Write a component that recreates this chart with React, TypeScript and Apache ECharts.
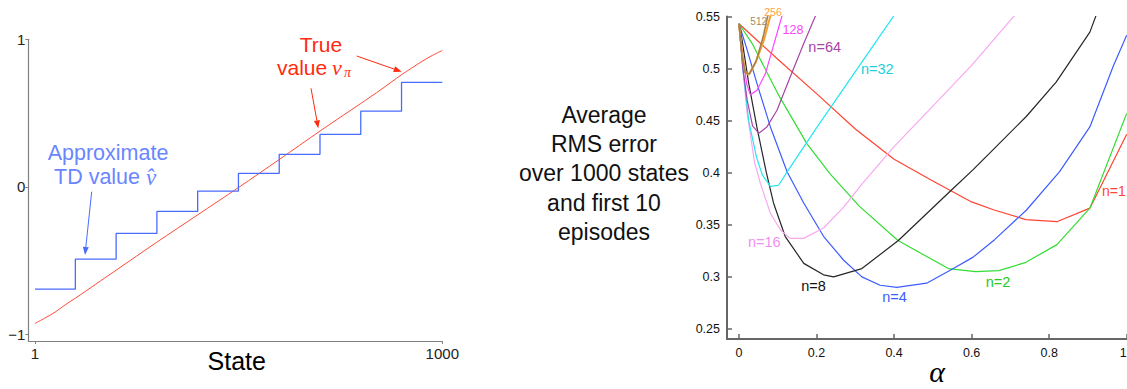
import React, { useEffect, useRef } from "react";
import * as echarts from "echarts";

// ---------- Left chart data ----------
const states = [1, 25, 50, 75, 100, 150, 200, 300, 400, 500, 600, 700, 800, 850, 900, 925, 950, 975, 1000];
const trueValue = [-0.926, -0.89, -0.85, -0.8, -0.755, -0.66, -0.565, -0.375, -0.19, -0.005, 0.185, 0.378, 0.565, 0.66, 0.76, 0.805, 0.85, 0.89, 0.924];
const groupStarts = [1, 100, 200, 300, 400, 500, 600, 700, 800, 900, 1000];
const tdValue = [-0.694, -0.49, -0.316, -0.167, -0.029, 0.091, 0.22, 0.355, 0.513, 0.708, 0.708];
const leftXTicks = [1, 1000];
const leftYTicks = [-1, 0, 1];

// ---------- Right chart data ----------
const n1Alpha = [0, 0.1, 0.2, 0.3, 0.4, 0.5, 0.6, 0.66, 0.74, 0.82, 0.905, 1.0];
const n1Rms = [0.543, 0.509, 0.476, 0.442, 0.413, 0.392, 0.372, 0.364, 0.355, 0.353, 0.366, 0.437];
const n2Alpha = [0, 0.034, 0.1, 0.175, 0.235, 0.31, 0.41, 0.54, 0.61, 0.67, 0.74, 0.82, 0.905, 1.0];
const n2Rms = [0.543, 0.524, 0.476, 0.428, 0.399, 0.368, 0.335, 0.308, 0.305, 0.306, 0.314, 0.331, 0.366, 0.457];
const n4Alpha = [0, 0.021, 0.046, 0.081, 0.124, 0.167, 0.218, 0.27, 0.317, 0.364, 0.407, 0.484, 0.553, 0.604, 0.66, 0.741, 0.827, 0.905, 0.965, 1.0];
const n4Rms = [0.543, 0.518, 0.486, 0.444, 0.401, 0.371, 0.339, 0.316, 0.3, 0.292, 0.29, 0.294, 0.308, 0.319, 0.336, 0.364, 0.401, 0.444, 0.502, 0.532];
const n8Alpha = [0, 0.008, 0.025, 0.046, 0.07, 0.089, 0.119, 0.167, 0.218, 0.244, 0.317, 0.411, 0.544, 0.604, 0.655, 0.741, 0.818, 0.905, 0.93];
const n8Rms = [0.543, 0.527, 0.486, 0.444, 0.401, 0.371, 0.339, 0.313, 0.302, 0.3, 0.308, 0.335, 0.382, 0.403, 0.422, 0.454, 0.487, 0.535, 0.56];
const n16Alpha = [0, 0.005, 0.02, 0.04, 0.055, 0.081, 0.107, 0.132, 0.167, 0.218, 0.27, 0.317, 0.4, 0.5, 0.6, 0.72];
const n16Rms = [0.543, 0.52, 0.46, 0.41, 0.39, 0.361, 0.345, 0.337, 0.337, 0.347, 0.367, 0.389, 0.425, 0.464, 0.503, 0.555];
const n32Alpha = [0, 0.01, 0.025, 0.045, 0.06, 0.081, 0.102, 0.128, 0.2, 0.3, 0.4];
const n32Rms = [0.543, 0.5, 0.45, 0.415, 0.398, 0.387, 0.388, 0.403, 0.443, 0.497, 0.551];
const n64Alpha = [0, 0.01, 0.021, 0.035, 0.051, 0.072, 0.098, 0.132, 0.167, 0.2];
const n64Rms = [0.543, 0.5, 0.47, 0.445, 0.438, 0.444, 0.46, 0.492, 0.524, 0.553];
const n128Alpha = [0, 0.01, 0.02, 0.029, 0.046, 0.068, 0.085, 0.112];
const n128Rms = [0.543, 0.51, 0.485, 0.475, 0.479, 0.495, 0.517, 0.552];
const n256Alpha = [0, 0.008, 0.016, 0.025, 0.042, 0.064, 0.082];
const n256Rms = [0.543, 0.515, 0.497, 0.494, 0.505, 0.527, 0.552];
const n512Alpha = [0, 0.008, 0.016, 0.027, 0.045, 0.062, 0.075];
const n512Rms = [0.543, 0.512, 0.496, 0.495, 0.508, 0.53, 0.552];
const rightXTicks = [0, 0.2, 0.4, 0.6, 0.8, 1];
const rightYTicks = [0.25, 0.3, 0.35, 0.4, 0.45, 0.5, 0.55];

const SANS = "'Liberation Sans', Arial, Helvetica, sans-serif";
const SERIF = "'Liberation Serif', 'DejaVu Serif', serif";

const zip = (xs: number[], ys: number[]) => xs.map((x, i) => [x, ys[i]]);

function arrow(x1: number, y1: number, x2: number, y2: number, color: string, head = 8, half = 3) {
  const dx = x2 - x1, dy = y2 - y1;
  const L = Math.hypot(dx, dy);
  const ux = dx / L, uy = dy / L;
  const bx = x2 - ux * head, by = y2 - uy * head;
  return [
    { type: "line", shape: { x1, y1, x2: bx, y2: by }, style: { stroke: color, lineWidth: 1 } },
    {
      type: "polygon",
      shape: { points: [[x2, y2], [bx - uy * half, by + ux * half], [bx + uy * half, by - ux * half]] },
      style: { fill: color },
    },
  ];
}

function txt(text: string, x: number, y: number, color: string, size: number, align = "center", extra: any = {}) {
  return {
    type: "text",
    x,
    y,
    style: {
      text,
      fill: color,
      font: `${extra.italic ? "italic " : ""}${size}px ${extra.family || SANS}`,
      textAlign: align,
      textVerticalAlign: "middle",
      lineHeight: extra.lineHeight,
    },
  };
}

export default function App() {
  const ref = useRef<HTMLDivElement>(null);
  useEffect(() => {
    if (!ref.current) return;
    const chart = echarts.init(ref.current, undefined, { renderer: "svg" });
    const rline = (data: number[][], color: string, width = 1.2) => ({
      type: "line",
      xAxisIndex: 1,
      yAxisIndex: 1,
      data,
      showSymbol: false,
      symbol: "none",
      clip: true,
      lineStyle: { color, width },
      z: 3,
    });
    const option: any = {
      animation: false,
      backgroundColor: "#ffffff",
      grid: [
        { left: 28.3, top: 39.3, width: 414, height: 301.7, outerBoundsMode: "none", containLabel: false },
        { left: 727, top: 16.5, width: 400, height: 322.5, outerBoundsMode: "none", containLabel: false },
      ],
      xAxis: [
        {
          gridIndex: 0,
          type: "value",
          min: -15.4,
          max: 1000,
          position: "bottom",
          axisLine: { onZero: false, lineStyle: { color: "#808080", width: 1.2 } },
          axisTick: { customValues: leftXTicks, length: 3, lineStyle: { color: "#808080" } },
          axisLabel: {
            customValues: leftXTicks,
            color: "#222",
            fontSize: 15,
            fontFamily: SANS,
            margin: 5,
            formatter: (v: number) => String(v),
          },
          splitLine: { show: false },
        },
        {
          gridIndex: 1,
          type: "value",
          min: -0.03095,
          max: 1.0008,
          position: "bottom",
          axisLine: { onZero: false, lineStyle: { color: "#666", width: 2 } },
          axisTick: { customValues: rightXTicks, inside: true, length: 5, lineStyle: { color: "#666", width: 1.5 } },
          axisLabel: {
            customValues: rightXTicks,
            color: "#111",
            fontSize: 12.5,
            fontFamily: SANS,
            margin: 7,
            alignMaxLabel: "right",
            formatter: (v: number) => String(Math.round(v * 10) / 10),
          },
          splitLine: { show: false },
        },
      ],
      yAxis: [
        {
          gridIndex: 0,
          type: "value",
          min: -1.045,
          max: 1.0,
          position: "left",
          axisLine: { onZero: false, lineStyle: { color: "#808080", width: 1.2 } },
          axisTick: { customValues: leftYTicks, length: 3, lineStyle: { color: "#808080" } },
          axisLabel: {
            customValues: leftYTicks,
            color: "#222",
            fontSize: 15,
            fontFamily: SANS,
            margin: 3,
            formatter: (v: number) => (v < 0 ? "\u2212" + Math.abs(v) : String(v)),
          },
          splitLine: { show: false },
        },
        {
          gridIndex: 1,
          type: "value",
          min: 0.2404,
          max: 0.55,
          position: "left",
          axisLine: { onZero: false, lineStyle: { color: "#666", width: 2 } },
          axisTick: { customValues: rightYTicks, inside: true, length: 5, lineStyle: { color: "#666", width: 1.5 } },
          axisLabel: {
            customValues: rightYTicks,
            color: "#111",
            fontSize: 12.5,
            fontFamily: SANS,
            margin: 7,
            formatter: (v: number) => String(Math.round(v * 100) / 100),
          },
          splitLine: { show: false },
        },
      ],
      series: [
        {
          type: "line",
          xAxisIndex: 0,
          yAxisIndex: 0,
          data: zip(states, trueValue),
          smooth: 0.3,
          showSymbol: false,
          symbol: "none",
          lineStyle: { color: "#ff4a3a", width: 1 },
        },
        {
          type: "line",
          xAxisIndex: 0,
          yAxisIndex: 0,
          data: zip(groupStarts, tdValue),
          step: "end",
          showSymbol: false,
          symbol: "none",
          lineStyle: { color: "#4a6bff", width: 1.3 },
        },
        rline(zip(n1Alpha, n1Rms), "#ff4433"),
        rline(zip(n2Alpha, n2Rms), "#33dd33"),
        rline(zip(n4Alpha, n4Rms), "#3c5cff"),
        rline(zip(n8Alpha, n8Rms), "#262626"),
        rline(zip(n16Alpha, n16Rms), "#f8a8f0"),
        rline(zip(n32Alpha, n32Rms), "#22e6f0"),
        rline(zip(n64Alpha, n64Rms), "#a545a5"),
        rline(zip(n128Alpha, n128Rms), "#ff44ff"),
        rline(zip(n256Alpha, n256Rms), "#f5a030", 2),
        rline(zip(n512Alpha, n512Rms), "#a8804a", 1.6),
      ],
      graphic: [
        // left chart
        txt("State", 236.7, 361, "#000", 25),
        txt("True", 321, 44, "#ff2a10", 21),
        txt("value", 277, 67, "#ff2a10", 21, "left"),
        txt("v", 332, 67.5, "#ff2a10", 22, "left", { italic: true, family: SERIF }),
        txt("\u03c0", 344, 72.5, "#ff2a10", 14, "left", { italic: true, family: SERIF }),
        ...arrow(356.7, 56, 401.7, 71.7, "#ff2a10"),
        ...arrow(311, 88.3, 318.3, 128.3, "#ff2a10"),
        txt("Approximate", 108, 152.5, "#6a86ff", 21.5),
        txt("TD value", 54, 176.5, "#6a86ff", 21.5, "left"),
        txt("v\u0302", 146, 177, "#6a86ff", 23, "left", { italic: true, family: SERIF }),
        ...arrow(91.7, 191.7, 85, 255, "#4a6bff"),
        // middle
        txt("Average\nRMS error\nover 1000 states\nand first 10\nepisodes", 604, 173.4, "#111", 23, "center", { lineHeight: 29.2 }),
        // right labels
        txt("512", 758.7, 21.7, "#a88a60", 10),
        txt("256", 773, 11.7, "#ffa040", 10.5),
        txt("128", 793, 30, "#ff44ff", 12.5),
        txt("n=64", 824.7, 47.3, "#a545a5", 14.5),
        txt("n=32", 877.3, 69, "#22d0d8", 14.5),
        txt("n=16", 764.3, 241.7, "#f090f0", 14.5),
        txt("n=8", 813.5, 286, "#111", 14.5),
        txt("n=4", 894.5, 297.3, "#3c5cff", 14.5),
        txt("n=2", 998, 281.7, "#22cc22", 14.5),
        txt("n=1", 1102, 190.5, "#ff4433", 14, "left"),
        txt("\u03b1", 937, 371, "#000", 30, "center", { italic: true, family: SERIF }),
      ],
    };
    chart.setOption(option);
    return () => chart.dispose();
  }, []);
  return <div ref={ref} style={{ position: "absolute", left: 0, top: 0, width: 1127, height: 389 }} />;
}
